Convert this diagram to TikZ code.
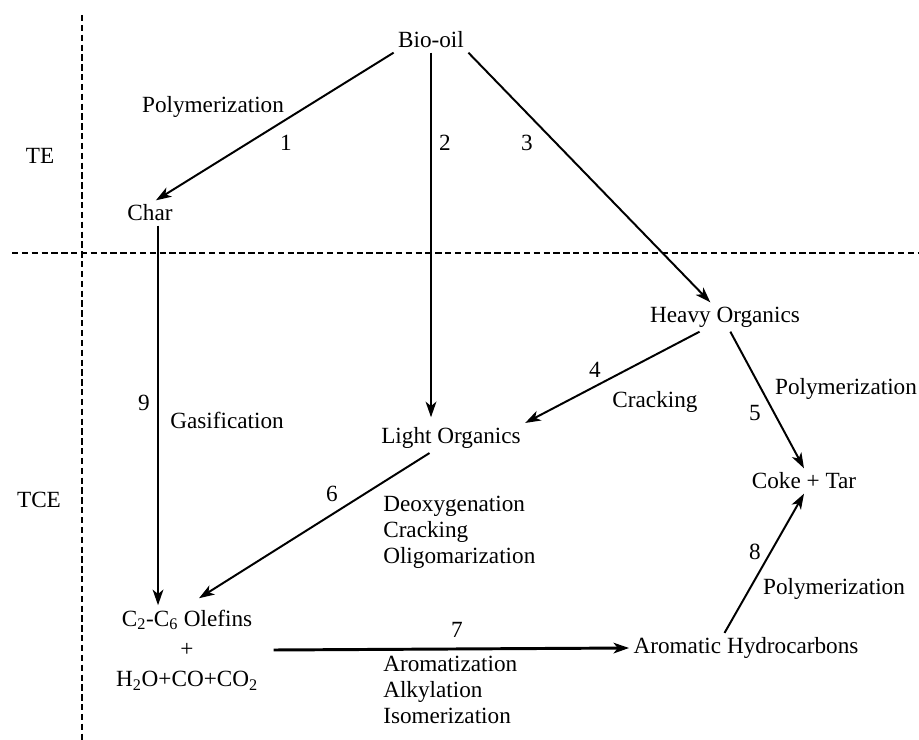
\documentclass[tikz,border=0pt]{standalone}
\usepackage{fontspec}
\setmainfont{Liberation Serif}
\usepackage{tikz}
\usetikzlibrary{arrows.meta}
\usetikzlibrary{calc}

\begin{document}
\begin{tikzpicture}[x=0.025cm,y=-0.025cm]
 \tikzstyle{every node}=[font=\fontsize{16.5}{18.5}\selectfont,inner sep=3pt];
 \tikzstyle{flow}=[-{Stealth[length=11pt,width=7.5pt,inset=3pt]},line width=1.4pt];
 \tikzstyle{bigflow}=[flow,line width=2.1pt];
 \tikzstyle{zone}=[dash pattern=on 4.5pt off 2.5pt,line width=1.3pt];
\useasboundingbox (0,0) rectangle (919,740);
% zones
\draw [zone] (82,15) -- (82,740);
\draw [zone] (12,253) -- (919,253);
\node (te) at (40,156) {TE};
\node (tce) at (39,500) {TCE};
% species
\node (bio) at (431,40) {Bio-oil};
\node (char) at (150,213) {Char};
\node (heavy) at (725,317) {Heavy Organics};
\node (light) at (451,438) {Light Organics};
\node (coke) at (804,481) {Coke + Tar};
\node (olef) [align=center] at (187,650) {C\textsubscript{2}-C\textsubscript{6} Olefins\\[3pt] +\\[3pt] H\textsubscript{2}O+CO+CO\textsubscript{2}};
\node (arom) at (746,648) {Aromatic Hydrocarbons};
% reactions
\draw [flow] (bio.south west) -- (char.65);
\draw [bigflow] (bio.south) -- ([yshift=4pt]bio.south |- light.north);
\draw [flow] (bio.south east) -- (heavy.135);
\draw [flow] (heavy.210) -- (light.north east);
\draw [flow] (heavy.290) -- (coke.north);
\draw [flow] (light.215) -- ([yshift=5pt]olef.75);
\draw [bigflow] ([xshift=8pt]olef.east) -- (arom.west);
\draw [flow] (arom.145) -- (coke.south);
\draw [bigflow] ([xshift=5.7pt]char.south) -- ([xshift=5.7pt]char.south |- olef.north);
% labels
\node (poly1) at (213,107) {Polymerization};
\node (lab1) at (286,143) {1};
\node (lab2) at (445,143) {2};
\node (lab3) at (527,143) {3};
\node (lab4) at (595,370) {4};
\node (crack) at (655,402) {Cracking};
\node (lab5) at (755,413) {5};
\node (poly5) at (846,389) {Polymerization};
\node (lab9) at (144,403) {9};
\node (gasif) at (227,420) {Gasification};
\node (lab6) at (332,494) {6};
\node (deoxy) [align=left,anchor=north west,inner sep=0pt] at (383,496) {Deoxygenation\\Cracking\\Oligomarization};
\node (lab7) at (457,630) {7};
\node (alkyl) [align=left,anchor=north west,inner sep=0pt] at (383,656) {Aromatization\\Alkylation\\Isomerization};
\node (lab8) at (755,552) {8};
\node (poly8) at (834,589) {Polymerization};
\end{tikzpicture}
\end{document}
